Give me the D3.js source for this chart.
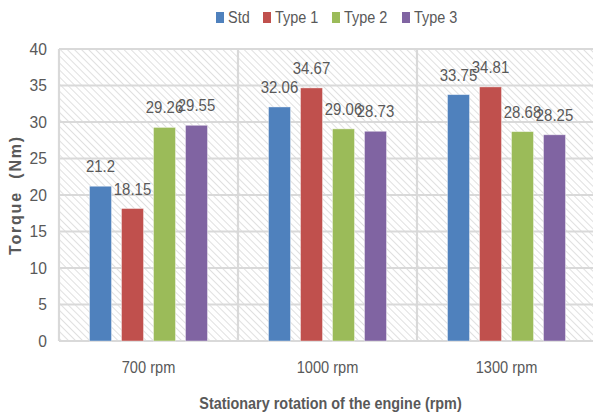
<!DOCTYPE html>
<html>
<head>
<meta charset="utf-8">
<script src="https://cdn.jsdelivr.net/npm/d3@7"></script>
<style>
  html, body { margin: 0; padding: 0; background: #fff; }
  svg { display: block; }
  text { font-family: "Liberation Sans", Arial, sans-serif; fill: #595959; }
</style>
</head>
<body>
<div id="chart"></div>
<script>
// Engine speeds on the x axis
const categories = ["700 rpm", "1000 rpm", "1300 rpm"];
// Torque (Nm) per fuel type
const seriesNames = ["Std", "Type 1", "Type 2", "Type 3"];
const stdValues   = [21.2, 32.06, 33.75];
const type1Values = [18.15, 34.67, 34.81];
const type2Values = [29.26, 29.06, 28.68];
const type3Values = [29.55, 28.73, 28.25];
const yTicks = [0, 5, 10, 15, 20, 25, 30, 35, 40];
const colors = ["#4F81BD", "#C0504D", "#9BBB59", "#8064A2"];

const seriesValues = [stdValues, type1Values, type2Values, type3Values];

const W = 593, H = 413;
const margin = { left: 59, right: -3, top: 49, bottom: 72 };
const plotW = W - margin.left - margin.right;
const plotH = H - margin.top - margin.bottom;

// condensed look for all labels: horizontal squeeze around the anchor point
const SQ = 0.86;
const at = (x, y, s = SQ) => `translate(${x},${y}) scale(${s},1)`;

const svg = d3.select("#chart").append("svg")
  .attr("width", W).attr("height", H);

// diagonal hatch used as the plot area fill
const defs = svg.append("defs");
const pat = defs.append("pattern")
  .attr("id", "hatch")
  .attr("patternUnits", "userSpaceOnUse")
  .attr("width", 5).attr("height", 5)
  .attr("patternTransform", "rotate(-45)");
pat.append("rect").attr("width", 5).attr("height", 5).attr("fill", "#ffffff");
pat.append("line")
  .attr("x1", 0).attr("y1", 0).attr("x2", 0).attr("y2", 5)
  .attr("stroke", "#cfcfcf").attr("stroke-width", 1.3);

const g = svg.append("g").attr("transform", `translate(${margin.left},${margin.top})`);

const x0 = d3.scaleBand().domain(categories).range([0, plotW]).paddingInner(0).paddingOuter(0);
const x1 = d3.scaleBand().domain(seriesNames).range([0, 118]).paddingInner(0.3125);
const y = d3.scaleLinear().domain([0, 40]).range([plotH, 0]);

g.append("rect")
  .attr("x", 0).attr("y", 0)
  .attr("width", plotW).attr("height", plotH)
  .attr("fill", "url(#hatch)");

// horizontal gridlines
g.append("g")
  .selectAll("line")
  .data(yTicks)
  .join("line")
  .attr("x1", 0).attr("x2", plotW)
  .attr("y1", d => y(d)).attr("y2", d => y(d))
  .attr("stroke", "#d9d9d9").attr("stroke-width", 2.2);

// vertical category separators
const seps = [0].concat(categories.map(c => x0(c) + x0.bandwidth()));
g.append("g")
  .selectAll("line")
  .data(seps)
  .join("line")
  .attr("x1", d => d).attr("x2", d => d)
  .attr("y1", 0).attr("y2", plotH)
  .attr("stroke", "#d9d9d9").attr("stroke-width", 2.2);

// y tick labels
g.append("g")
  .selectAll("text")
  .data(yTicks)
  .join("text")
  .attr("transform", d => at(-12, y(d), 0.92))
  .attr("dy", "0.35em")
  .attr("text-anchor", "end")
  .attr("font-size", 17)
  .text(d => d);

// category labels
g.append("g")
  .selectAll("text")
  .data(categories)
  .join("text")
  .attr("transform", d => at(x0(d) + x0.bandwidth() / 2, plotH + 32))
  .attr("text-anchor", "middle")
  .attr("font-size", 17)
  .text(d => d);

// bars and value labels
const groupOffset = (x0.bandwidth() - x1.range()[1]) / 2;
const barData = [];
categories.forEach((c, ci) => {
  seriesNames.forEach((s, si) => {
    barData.push({ cat: c, series: s, value: seriesValues[si][ci], color: colors[si] });
  });
});

const bars = g.append("g");
bars.selectAll("rect")
  .data(barData)
  .join("rect")
  .attr("x", d => x0(d.cat) + groupOffset + x1(d.series))
  .attr("y", d => y(d.value))
  .attr("width", x1.bandwidth())
  .attr("height", d => y(0) - y(d.value))
  .attr("fill", d => d.color)
  .attr("stroke", "rgba(255,255,255,0.5)")
  .attr("stroke-width", 0.8);

bars.selectAll("text")
  .data(barData)
  .join("text")
  .attr("transform", d => at(x0(d.cat) + groupOffset + x1(d.series) + x1.bandwidth() / 2, y(d.value) - 14, 0.88))
  .attr("text-anchor", "middle")
  .attr("font-size", 17)
  .text(d => d.value);

// axis titles
svg.append("text")
  .attr("transform", `translate(21,${margin.top + plotH / 2}) rotate(-90)`)
  .attr("text-anchor", "middle")
  .attr("font-size", 16)
  .attr("font-weight", "bold")
  .attr("letter-spacing", 1.8)
  .attr("xml:space", "preserve")
  .text("Torque  (Nm)");

svg.append("text")
  .attr("transform", at(margin.left + plotW / 2 + 3, 409, 0.9))
  .attr("text-anchor", "middle")
  .attr("font-size", 16)
  .attr("font-weight", "bold")
  .text("Stationary rotation of the engine (rpm)");

// legend
const legendX = [216, 263, 332, 402];
const legend = svg.append("g");
const items = legend.selectAll("g")
  .data(seriesNames)
  .join("g")
  .attr("transform", (d, i) => `translate(${legendX[i]},0)`);
items.append("rect")
  .attr("x", 0).attr("y", 12)
  .attr("width", 8).attr("height", 11)
  .attr("fill", (d, i) => colors[i]);
items.append("text")
  .attr("transform", at(12, 23, 0.85))
  .attr("font-size", 17)
  .text(d => d);
</script>
</body>
</html>
